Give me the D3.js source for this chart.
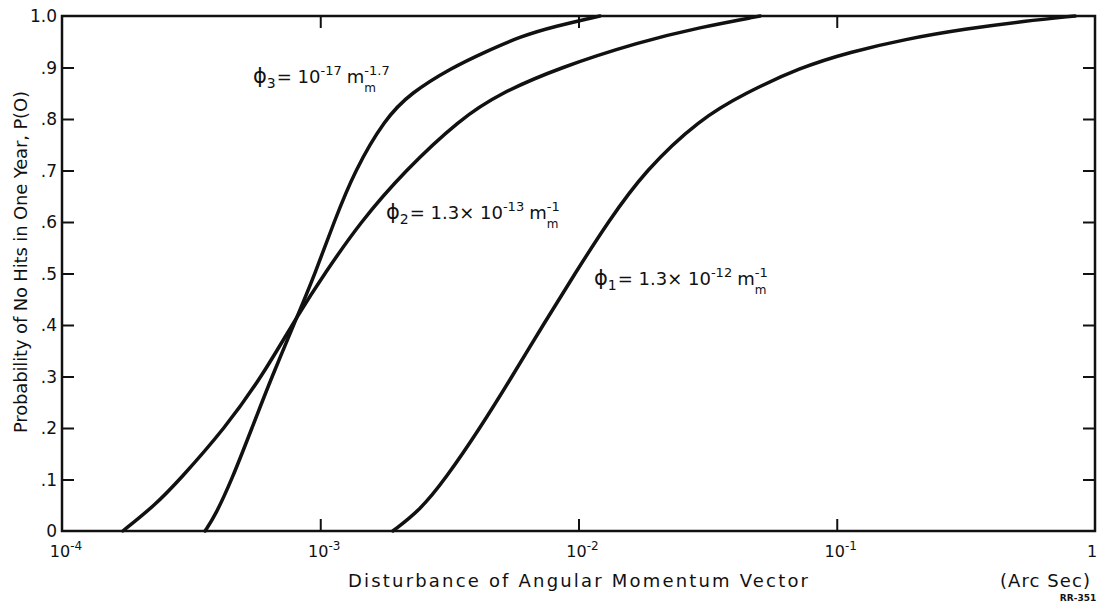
<!DOCTYPE html>
<html>
<head>
<meta charset="utf-8">
<script src="https://cdn.jsdelivr.net/npm/d3@7"></script>
<style>
body { margin: 0; background: #fff; }
text { font-family: "DejaVu Sans", "Liberation Sans", sans-serif; fill: #111; }
</style>
</head>
<body>
<script>
let width = 1100;
let height = 605;
let margin = {left: 62, right: 5, top: 16, bottom: 74};

// curve phi1 (rightmost)
let phi1X = [1.91e-3, 2.43e-3, 3.04e-3, 4.16e-3, 5.53e-3, 7.29e-3, 9.69e-3, 1.30e-2, 1.81e-2, 2.95e-2, 4.41e-2, 7.21e-2, 1.125e-1, 1.84e-1, 3.14e-1, 5.36e-1, 8.37e-1];
let phi1Y = [0, .04, .1, .2, .3, .4, .5, .6, .7, .8, .85, .9, .93, .955, .975, .99, 1.0];
// curve phi2 (shallow one)
let phi2X = [1.72e-4, 2.29e-4, 2.86e-4, 4.28e-4, 5.95e-4, 8.2e-4, 1.04e-3, 1.43e-3, 2.13e-3, 3.48e-3, 4.97e-3, 8.47e-3, 1.73e-2, 2.95e-2, 5.05e-2];
let phi2Y = [0, .05, .1, .2, .3, .42, .5, .6, .7, .8, .85, .9, .95, .978, 1.0];
// curve phi3 (steep one)
let phi3X = [3.58e-4, 3.92e-4, 4.55e-4, 5.44e-4, 6.5e-4, 8.2e-4, 9.55e-4, 1.13e-3, 1.36e-3, 1.78e-3, 2.23e-3, 3.24e-3, 4.34e-3, 5.93e-3, 8.11e-3, 1.21e-2];
let phi3Y = [0, .03, .1, .2, .3, .42, .5, .6, .7, .8, .85, .9, .93, .96, .98, 1.0];

let xDecades = [1e-4, 1e-3, 1e-2, 1e-1, 1];
let xExponents = ['-4', '-3', '-2', '-1', ''];
let yTicks = [0, .1, .2, .3, .4, .5, .6, .7, .8, .9, 1.0];
let yTickLabels = ['0', '.1', '.2', '.3', '.4', '.5', '.6', '.7', '.8', '.9', '1.0'];

let svg = d3.select('body').append('svg')
	.attr('width', width)
	.attr('height', height)
	.style('background-color', '#fff');

let x = d3.scaleLog().domain([1e-4, 1]).range([margin.left, width - margin.right]);
let y = d3.scaleLinear().domain([0, 1]).range([height - margin.bottom, margin.top]);

let inner = xDecades.slice(1, -1);
let innerY = yTicks.slice(1, -1);

function strip(g) {
	g.select('.domain').remove();
	g.selectAll('line').attr('stroke', '#111').attr('stroke-width', 2);
}

svg.append('g')
	.attr('transform', 'translate(0,' + y(0) + ')')
	.call(d3.axisBottom(x).tickValues(inner).tickSize(-12).tickFormat(''))
	.call(strip);
svg.append('g')
	.attr('transform', 'translate(0,' + y(1) + ')')
	.call(d3.axisTop(x).tickValues(inner).tickSize(-12).tickFormat(''))
	.call(strip);
svg.append('g')
	.attr('transform', 'translate(' + x(1e-4) + ',0)')
	.call(d3.axisLeft(y).tickValues(innerY).tickSize(-12).tickFormat(''))
	.call(strip);
svg.append('g')
	.attr('transform', 'translate(' + x(1) + ',0)')
	.call(d3.axisRight(y).tickValues(innerY).tickSize(-12).tickFormat(''))
	.call(strip);

// frame
svg.append('rect')
	.attr('x', x(1e-4))
	.attr('y', y(1))
	.attr('width', x(1) - x(1e-4))
	.attr('height', y(0) - y(1))
	.style('fill', 'none')
	.style('stroke', '#111')
	.style('stroke-width', 2.5);

// y tick labels
svg.selectAll('.ylab').data(yTicks).enter().append('text')
	.attr('class', 'ylab')
	.attr('x', x(1e-4) - 5)
	.attr('y', d => y(d) + 6)
	.attr('text-anchor', 'end')
	.style('font-size', '17px')
	.text((d, i) => yTickLabels[i]);

// x tick labels
xDecades.forEach(function (d, i) {
	let t = svg.append('text')
		.attr('x', x(d) + 4)
		.attr('y', 557)
		.attr('text-anchor', 'middle')
		.style('font-size', '16px');
	if (xExponents[i] === '') {
		t.attr('x', x(d) - 3).text('1');
	} else {
		t.append('tspan').text('10');
		t.append('tspan').attr('dy', -7).style('font-size', '12px').text(xExponents[i]);
	}
});

// axis titles
svg.append('text')
	.attr('x', 348)
	.attr('y', 587)
	.attr('textLength', 460)
	.attr('lengthAdjust', 'spacing')
	.style('font-size', '18px')
	.text('Disturbance of Angular Momentum Vector');
svg.append('text')
	.attr('x', 1000)
	.attr('y', 587)
	.attr('textLength', 90)
	.attr('lengthAdjust', 'spacing')
	.style('font-size', '18px')
	.text('(Arc Sec)');
svg.append('text')
	.attr('x', 1078)
	.attr('y', 601)
	.attr('text-anchor', 'middle')
	.style('font-size', '9px')
	.style('font-weight', 'bold')
	.text('RR-351');
svg.append('text')
	.attr('transform', 'translate(27,' + 433 + ') rotate(-90)')
	.attr('textLength', 342)
	.attr('lengthAdjust', 'spacing')
	.style('font-size', '18px')
	.text('Probability of No Hits in One Year, P(O)');

// curves
let line = d3.line()
	.x(d => x(d[0]))
	.y(d => y(d[1]))
	.curve(d3.curveBasis);

[[phi1X, phi1Y], [phi2X, phi2Y], [phi3X, phi3Y]].forEach(function (s) {
	svg.append('path')
		.datum(d3.zip(s[0], s[1]))
		.attr('d', line)
		.style('fill', 'none')
		.style('stroke', '#111')
		.style('stroke-width', 3.5)
		.style('stroke-linecap', 'round');
});

// curve labels: phi_n = coef 10^exp m_m^pow
function label(px, py, sub, coef, exp, pow) {
	let g = svg.append('g').attr('transform', 'translate(' + px + ',' + py + ')');
	let cx = 0;
	function piece(str, dy, size) {
		let t = g.append('text').attr('x', cx).attr('y', dy).style('font-size', size + 'px').text(str);
		cx += t.node().getComputedTextLength();
		return t;
	}
	piece('\u03D5', 0, 21);
	piece(sub, 5, 14);
	cx += 1;
	piece('= ' + coef + '10', 0, 18);
	piece(exp, -8, 13);
	cx += 5;
	piece('m', 0, 18);
	let sx = cx;
	piece(pow, -8, 13);
	g.append('text').attr('x', sx).attr('y', 9).style('font-size', '12px').text('m');
}

label(253, 83, '3', '', '-17', '-1.7');
label(386, 219, '2', '1.3\u00D7 ', '-13', '-1');
label(594, 285, '1', '1.3\u00D7 ', '-12', '-1');
</script>
</body>
</html>
